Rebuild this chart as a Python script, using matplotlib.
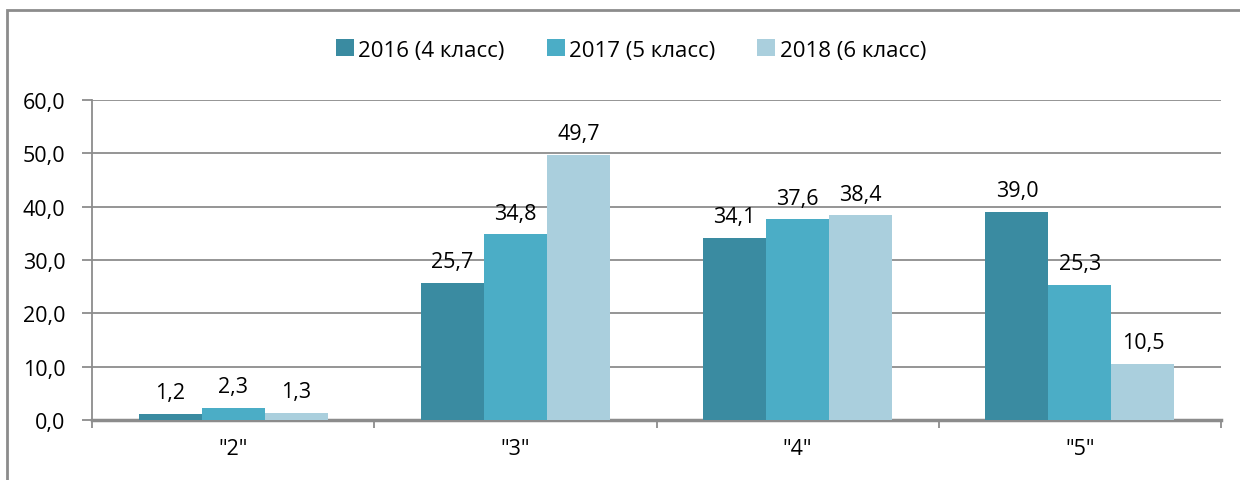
import matplotlib
matplotlib.use("Agg")
import matplotlib.pyplot as plt
import numpy as np
from matplotlib.patches import Rectangle

categories = ['"2"', '"3"', '"4"', '"5"']
series_names = ["2016 (4 класс)", "2017 (5 класс)", "2018 (6 класс)"]
v2016 = [1.2, 25.7, 34.1, 39.0]
v2017 = [2.3, 34.8, 37.6, 25.3]
v2018 = [1.3, 49.7, 38.4, 10.5]
yticks = [0, 10, 20, 30, 40, 50, 60]
colors = ["#3A8BA1", "#4BADC6", "#AACFDD"]

FS = 15.5
plt.rcParams['font.family'] = ['Open Sans', 'DejaVu Sans']
fig = plt.figure(figsize=(12.4, 4.81), dpi=100)
fig.patches.append(Rectangle((7/1240, -0.1), 1.2, 1 - 11/481 + 0.1, transform=fig.transFigure,
                             fill=False, edgecolor="#8C8C8C", linewidth=2))
ax = fig.add_axes([92/1240, 60/481, 1129/1240, 320/481])

x = np.arange(len(categories))
w = 0.223
for i, (vals, name, c) in enumerate(zip([v2016, v2017, v2018], series_names, colors)):
    bars = ax.bar(x + (i - 1) * w, vals, w, color=c, label=name, zorder=3)
    for b, v in zip(bars, vals):
        ax.text(b.get_x() + b.get_width() / 2, v + 2.0, f"{v:.1f}".replace(".", ","),
                ha="center", va="bottom", fontsize=FS, color="#000000")

ax.set_xlim(-0.5, len(categories) - 0.5)
ax.set_ylim(0, 60)
ax.set_yticks(yticks)
ax.set_yticklabels([f"{t:.1f}".replace(".", ",") for t in yticks], fontsize=FS)
ax.yaxis.grid(True, color="#8C8C8C", linewidth=1.3, zorder=0)
ax.set_axisbelow(True)
ax.set_xticks(x)
ax.set_xticklabels(categories, fontsize=FS)
ax.tick_params(axis="x", length=0, pad=13)
ax.set_xticks(np.arange(-0.5, len(categories)), minor=True)
ax.tick_params(axis="x", which="minor", length=6, color="#8C8C8C", width=1.3)
ax.tick_params(axis="y", length=7, color="#8C8C8C", width=1.3, pad=12)
for s in ["top", "right"]:
    ax.spines[s].set_visible(False)
for s in ["left", "bottom"]:
    ax.spines[s].set_color("#8C8C8C")
    ax.spines[s].set_linewidth(1.3)
ax.spines["bottom"].set_linewidth(2.5)

leg = fig.legend(loc="center", bbox_to_anchor=(631/1240, 1 - 51/481), ncol=3, frameon=False,
                 fontsize=16, handlelength=0.8, handleheight=0.8, handletextpad=0.2,
                 columnspacing=1.9)

fig.savefig("out.png", dpi=100)
